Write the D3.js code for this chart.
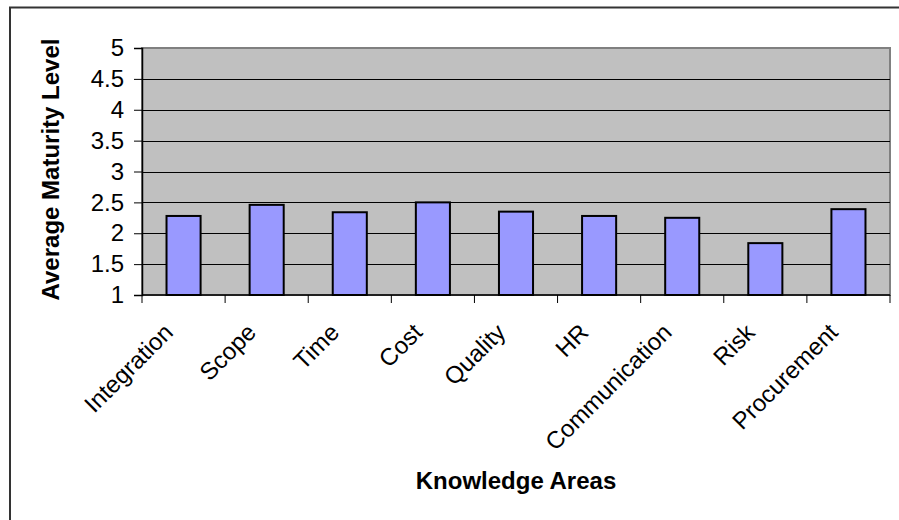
<!DOCTYPE html>
<html>
<head>
<meta charset="utf-8">
<script src="https://cdn.jsdelivr.net/npm/d3@7"></script>
<style>
  body { margin: 0; background: #fff; }
  svg { display: block; font-family: Arial, "Liberation Sans", sans-serif; }
</style>
</head>
<body>
<div id="chart"></div>
<script>
// chart data
const areas = ["Integration", "Scope", "Time", "Cost", "Quality", "HR", "Communication", "Risk", "Procurement"]
const maturity = [2.28, 2.46, 2.34, 2.5, 2.35, 2.28, 2.25, 1.84, 2.39]
const yTicks = [1, 1.5, 2, 2.5, 3, 3.5, 4, 4.5, 5]

let width = 899
let height = 520
let plot = {left: 142, right: 890, top: 48, bottom: 295}

let svg = d3.select("#chart")
    .append("svg")
    .attr("width", width)
    .attr("height", height)

// outer chart border (right/bottom fall outside the picture)
svg.append("rect")
    .attr("x", 10)
    .attr("y", 7.5)
    .attr("width", 940)
    .attr("height", 560)
    .attr("fill", "#fff")
    .attr("stroke", "#333")
    .attr("stroke-width", 2)

let xScale = d3.scaleBand()
    .domain(areas)
    .range([plot.left, plot.right])
    .padding(0)

let yScale = d3.scaleLinear()
    .domain([1, 5])
    .range([plot.bottom, plot.top])

// plot area
svg.append("rect")
    .attr("x", plot.left)
    .attr("y", plot.top)
    .attr("width", plot.right - plot.left)
    .attr("height", plot.bottom - plot.top)
    .attr("fill", "#c0c0c0")
    .attr("stroke", "#808080")
    .attr("stroke-width", 2)

// gridlines
svg.append("g")
    .selectAll("line")
    .data(yTicks.filter(d => d > 1 && d < 5))
    .join("line")
    .attr("x1", plot.left)
    .attr("x2", plot.right)
    .attr("y1", d => Math.round(yScale(d)) + 0.5)
    .attr("y2", d => Math.round(yScale(d)) + 0.5)
    .attr("stroke", "#000")
    .attr("stroke-width", 1)

// bars
let barW = xScale.bandwidth() * 0.41
svg.append("g")
    .selectAll("rect")
    .data(maturity)
    .join("rect")
    .attr("x", (d, i) => xScale(areas[i]) + (xScale.bandwidth() - barW) / 2)
    .attr("y", d => yScale(d))
    .attr("width", barW)
    .attr("height", d => yScale(1) - yScale(d))
    .attr("fill", "#9999ff")
    .attr("stroke", "#000")
    .attr("stroke-width", 2)

// y axis
let yAxis = svg.append("g")
    .attr("transform", "translate(" + plot.left + ",0)")
    .call(d3.axisLeft(yScale).tickValues(yTicks).tickSize(8).tickPadding(10).tickFormat(d3.format("")))
yAxis.select(".domain").attr("stroke", "#000").attr("stroke-width", 1.5)
yAxis.selectAll(".tick line").attr("stroke", "#000")
yAxis.selectAll("text")
    .style("font-size", "24px")
    .style("font-family", "Arial, 'Liberation Sans', sans-serif")
    .attr("fill", "#000")

// x axis
let xAxis = svg.append("g")
    .attr("transform", "translate(0," + plot.bottom + ")")
xAxis.append("line")
    .attr("x1", plot.left)
    .attr("x2", plot.right)
    .attr("stroke", "#000")
    .attr("stroke-width", 1.5)
xAxis.selectAll(".sep")
    .data(d3.range(areas.length + 1))
    .join("line")
    .attr("class", "sep")
    .attr("x1", i => plot.left + i * xScale.step())
    .attr("x2", i => plot.left + i * xScale.step())
    .attr("y1", 0)
    .attr("y2", 8)
    .attr("stroke", "#000")
xAxis.selectAll(".lbl")
    .data(areas)
    .join("text")
    .attr("class", "lbl")
    .attr("text-anchor", "end")
    .attr("transform", d => "translate(" + (xScale(d) + xScale.bandwidth() / 2 - 21) + ",27) rotate(-45)")
    .attr("dy", "0.7em")
    .style("font-size", "24px")
    .text(d => d)

// axis titles
svg.append("text")
    .attr("text-anchor", "middle")
    .attr("transform", "translate(59," + ((plot.top + plot.bottom) / 2 - 2) + ") rotate(-90)")
    .style("font-size", "24px")
    .style("font-weight", "bold")
    .text("Average Maturity Level")

svg.append("text")
    .attr("x", 516)
    .attr("y", 489)
    .attr("text-anchor", "middle")
    .style("font-size", "24px")
    .style("font-weight", "bold")
    .text("Knowledge Areas")
</script>
</body>
</html>
